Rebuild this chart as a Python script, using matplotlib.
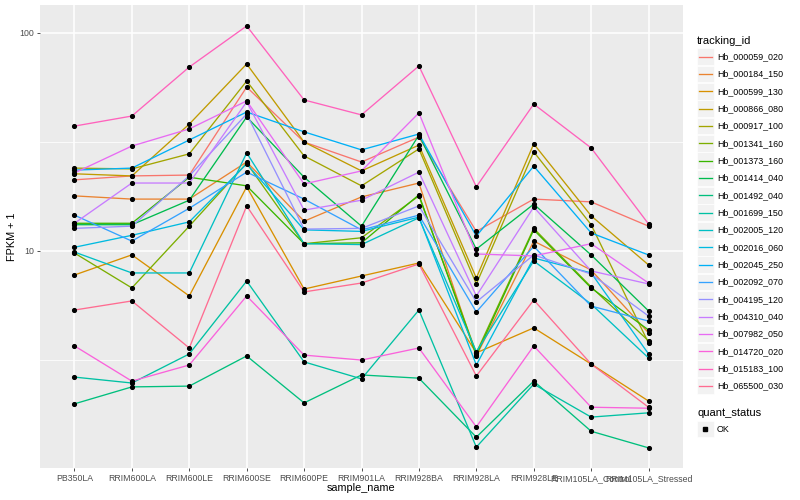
import matplotlib
matplotlib.use("Agg")
import matplotlib.pyplot as plt
from matplotlib.patches import Rectangle
from matplotlib.lines import Line2D
import numpy as np

plt.rcParams['font.family'] = ['Liberation Sans', 'DejaVu Sans']

samples = ["PB350LA", "RRIM600LA", "RRIM600LE", "RRIM600SE", "RRIM600PE", "RRIM901LA",
           "RRIM928BA", "RRIM928LA", "RRIM928LE", "RRIM105LA_Control", "RRIM105LA_Stressed"]

tracking_ids = ["Hb_000059_020", "Hb_000184_150", "Hb_000599_130", "Hb_000866_080",
                "Hb_000917_100", "Hb_001341_160", "Hb_001373_160", "Hb_001414_040",
                "Hb_001492_040", "Hb_001699_150", "Hb_002005_120", "Hb_002016_060",
                "Hb_002045_250", "Hb_002092_070", "Hb_004195_120", "Hb_004310_040",
                "Hb_007982_050", "Hb_014720_020", "Hb_015183_100", "Hb_065500_030"]

colors = ["#F8766D", "#EA8331", "#D89000", "#C09B00", "#A3A500", "#7CAE00", "#39B600",
          "#00BB4E", "#00BF7D", "#00C1A3", "#00BFC4", "#00BAE0", "#00B0F6", "#35A2FF",
          "#9590FF", "#C77CFF", "#E76BF3", "#FA62DB", "#FF62BC", "#FF6C91"]

# FPKM + 1 values per gene (in sample order)
Hb_000059_020 = [21.2, 22.1, 22.3, 56.5, 31.6, 25.6, 33.3, 12.3, 17.3, 16.8, 13.0]
Hb_000184_150 = [17.9, 17.3, 17.3, 25.6, 13.7, 17.7, 20.5, 3.30, 11.1, 8.18, 4.21]
Hb_000599_130 = [7.76, 9.60, 6.22, 19.7, 6.69, 7.68, 8.81, 3.41, 4.44, 3.03, 2.05]
Hb_000866_080 = [22.6, 22.1, 38.2, 72.1, 31.6, 23.3, 30.6, 7.52, 31.0, 14.5, 8.63]
Hb_000917_100 = [24.0, 23.8, 27.9, 60.2, 27.3, 19.9, 29.4, 7.06, 28.5, 13.2, 3.78]
Hb_001341_160 = [9.79, 6.77, 13.0, 25.3, 10.8, 11.5, 17.9, 3.41, 12.7, 6.84, 3.87]
Hb_001373_160 = [13.4, 13.4, 21.8, 19.9, 10.8, 10.9, 18.1, 3.33, 12.5, 6.77, 4.34]
Hb_001414_040 = [13.2, 13.2, 17.1, 41.2, 21.8, 13.0, 34.0, 10.2, 16.4, 9.59, 5.31]
Hb_001492_040 = [1.99, 2.38, 2.40, 3.30, 2.01, 2.70, 2.61, 1.40, 2.53, 1.49, 1.25]
Hb_001699_150 = [2.64, 2.48, 3.37, 7.28, 3.10, 2.59, 5.36, 1.26, 2.45, 1.73, 1.81]
Hb_002005_120 = [9.89, 7.93, 7.93, 28.2, 10.8, 10.7, 14.2, 3.45, 9.00, 5.71, 3.23]
Hb_002016_060 = [10.4, 11.8, 13.6, 25.1, 12.5, 12.3, 14.3, 3.00, 9.29, 7.93, 3.37]
Hb_002045_250 = [23.5, 24.0, 32.3, 43.4, 35.2, 29.1, 34.4, 11.7, 24.5, 12.1, 9.59]
Hb_002092_070 = [14.6, 11.1, 15.7, 23.0, 17.3, 12.5, 14.6, 5.25, 10.5, 5.59, 4.77]
Hb_004195_120 = [12.7, 13.0, 22.1, 42.5, 12.6, 12.7, 16.1, 5.84, 9.59, 7.84, 5.03]
Hb_004310_040 = [13.4, 20.5, 20.5, 48.3, 15.4, 17.1, 23.0, 6.22, 15.9, 8.10, 7.06]
Hb_007982_050 = [22.8, 30.3, 36.3, 48.8, 20.3, 23.3, 43.0, 9.69, 9.49, 10.8, 7.13]
Hb_014720_020 = [3.67, 2.53, 3.00, 6.22, 3.33, 3.16, 3.59, 1.56, 3.67, 1.92, 1.90]
Hb_015183_100 = [37.4, 41.6, 69.8, 107.7, 49.3, 42.1, 70.6, 19.7, 47.2, 29.7, 13.3]
Hb_065500_030 = [5.36, 5.90, 3.59, 16.1, 6.49, 7.13, 8.72, 2.67, 5.96, 3.03, 1.92]

series = [Hb_000059_020, Hb_000184_150, Hb_000599_130, Hb_000866_080, Hb_000917_100,
          Hb_001341_160, Hb_001373_160, Hb_001414_040, Hb_001492_040, Hb_001699_150,
          Hb_002005_120, Hb_002016_060, Hb_002045_250, Hb_002092_070, Hb_004195_120,
          Hb_004310_040, Hb_007982_050, Hb_014720_020, Hb_015183_100, Hb_065500_030]

W, H = 800, 500
fig = plt.figure(figsize=(8, 5), dpi=100)
fig.patch.set_facecolor('white')

def fx(x):
    return x / W

def fy(y):
    return 1 - y / H

pl, pr, pt, pb = 40, 683, 5, 468
ax = fig.add_axes([fx(pl), fy(pb), (pr - pl) / W, (pb - pt) / H])
ax.set_facecolor('#EBEBEB')
ax.set_yscale('log')
ax.set_xlim(-0.6, len(samples) - 0.4)
ax.set_ylim(1.0106, 134.4)

for s in ax.spines.values():
    s.set_visible(False)

# grid
for yv in [10 ** 0.5, 10 ** 1.5]:
    ax.axhline(yv, color='white', lw=0.55, zorder=0)
for yv in [10, 100]:
    ax.axhline(yv, color='white', lw=1.1, zorder=0)
for i in range(len(samples)):
    ax.axvline(i, color='white', lw=1.1, zorder=0)

x = np.arange(len(samples))
for vals, c in zip(series, colors):
    ax.plot(x, vals, color=c, lw=0.95, zorder=2, solid_capstyle='butt')
for vals in series:
    ax.plot(x, vals, linestyle='none', marker='o', ms=2.7, color='black', zorder=3)

ax.set_yticks([10, 100])
ax.set_yticklabels(['10', '100'])
ax.yaxis.set_minor_locator(matplotlib.ticker.NullLocator())
ax.set_xticks(x)
ax.set_xticklabels(samples)
ax.tick_params(axis='both', length=2.5, width=0.6, color='#333333', labelcolor='#4D4D4D',
               labelsize=6.3, pad=2)

fig.text(fx(12), fy((pt + pb) / 2), 'FPKM + 1', rotation=90, ha='center', va='center',
         fontsize=7.8, color='black')
fig.text(fx((pl + pr) / 2), fy(488), 'sample_name', ha='center', va='center',
         fontsize=7.8, color='black')

# legend: tracking_id
fig.text(fx(697), fy(41), 'tracking_id', ha='left', va='center', fontsize=8, color='black')
y0, dy = 56.7, 17.33
for i, (tid, c) in enumerate(zip(tracking_ids, colors)):
    yc = y0 + i * dy
    fig.add_artist(Rectangle((fx(697), fy(yc + 8.3)), 16.5 / W, 16.6 / H,
                             transform=fig.transFigure, facecolor='#F2F2F2',
                             edgecolor='white', lw=0.5))
    fig.add_artist(Line2D([fx(698.5), fx(712)], [fy(yc), fy(yc)], transform=fig.transFigure,
                          color=c, lw=0.95))
    fig.text(fx(717), fy(yc), tid, ha='left', va='center', fontsize=6.4, color='black')

# legend: quant_status
fig.text(fx(697), fy(412.5), 'quant_status', ha='left', va='center', fontsize=8, color='black')
fig.add_artist(Rectangle((fx(697), fy(429 + 8.3)), 16.5 / W, 16.6 / H,
                         transform=fig.transFigure, facecolor='#F2F2F2',
                         edgecolor='white', lw=0.5))
fig.add_artist(Line2D([fx(705.2)], [fy(429)], transform=fig.transFigure, marker='s',
                      ms=2.6, color='black', linestyle='none'))
fig.text(fx(717), fy(429), 'OK', ha='left', va='center', fontsize=6.4, color='black')

fig.savefig('out.png', dpi=100)
